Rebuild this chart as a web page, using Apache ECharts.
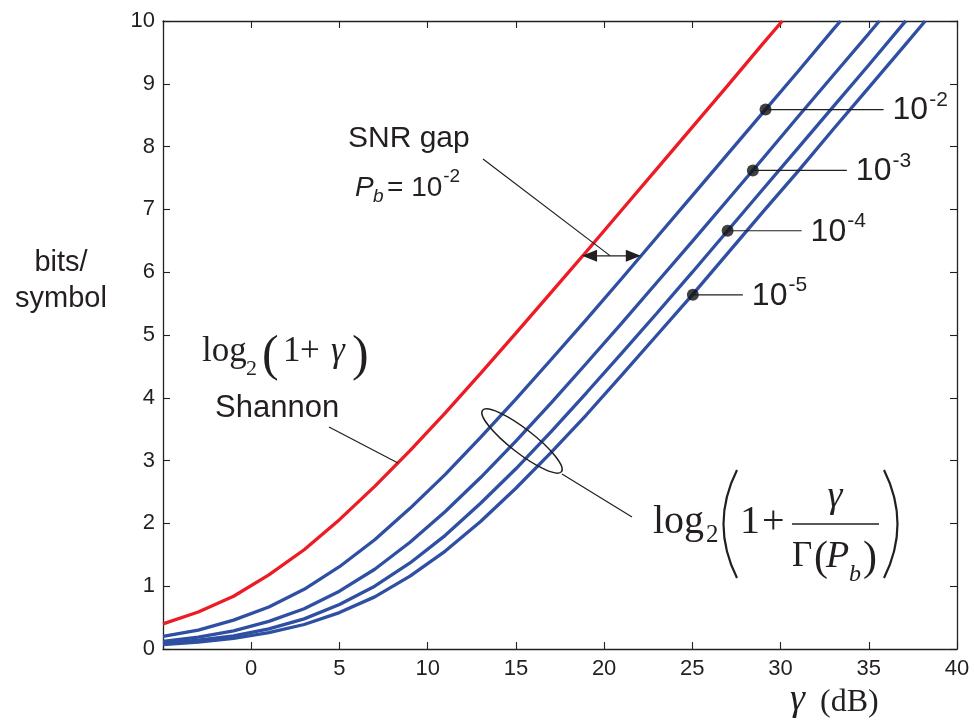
<!DOCTYPE html>
<html><head><meta charset="utf-8">
<script src="https://cdn.jsdelivr.net/npm/echarts@6/dist/echarts.min.js"></script>
<style>html,body{margin:0;padding:0;background:#fff}#c{width:974px;height:727px}</style>
</head><body><div id="c"></div>
<script>
// ---- data ----
const shannonX = [-5,-3,-1,1,3,5,7,9,11,13,15,17,19,21,23,25,27,29,30.1];
const shannonY = [0.40,0.59,0.84,1.18,1.58,2.06,2.59,3.16,3.76,4.39,5.03,5.68,6.33,6.99,7.65,8.31,8.97,9.64,10];
const pb2X = [-5,-3,-1,1,3,5,7,9,11,13,15,17,19,21,23,25,27,29,31,33,33.4];
const pb2Y = [0.20,0.30,0.46,0.67,0.95,1.31,1.74,2.24,2.78,3.37,3.98,4.61,5.25,5.90,6.56,7.22,7.88,8.54,9.20,9.87,10];
const pb3X = [-5,-3,-1,1,3,5,7,9,11,13,15,17,19,21,23,25,27,29,31,33,35,35.6];
const pb3Y = [0.12,0.19,0.29,0.44,0.64,0.92,1.27,1.70,2.19,2.73,3.31,3.92,4.55,5.19,5.84,6.49,7.15,7.81,8.48,9.14,9.80,10];
const pb4X = [-5,-3,-1,1,3,5,7,9,11,13,15,17,19,21,23,25,27,29,31,33,35,37,37.1];
const pb4Y = [0.09,0.14,0.21,0.32,0.48,0.71,1.00,1.37,1.81,2.32,2.87,3.46,4.08,4.71,5.35,6.00,6.66,7.32,7.98,8.64,9.30,9.97,10];
const pb5X = [-5,-3,-1,1,3,5,7,9,11,13,15,17,19,21,23,25,27,29,31,33,35,37,38.2];
const pb5Y = [0.07,0.11,0.17,0.26,0.39,0.58,0.83,1.16,1.56,2.03,2.56,3.13,3.73,4.36,5.00,5.64,6.30,6.96,7.61,8.28,8.94,9.60,10];
const dotX = [29.15, 28.43, 27.0, 25.03];
const dotY = [8.59, 7.62, 6.66, 5.64];
const dotExp = ['-2','-3','-4','-5'];
const gapArrowY = 6.26, gapArrowX1 = 18.75, gapArrowX2 = 22.08;

// ---- chart ----
const SANS = '"Liberation Sans", Arial, sans-serif';
const SERIF = '"Liberation Serif", "Times New Roman", serif';
const INK = '#231f20';
const FRAME = '#222';
const chart = echarts.init(document.getElementById('c'), null, {renderer:'canvas'});
const pair = (xs, ys) => xs.map((x, i) => [x, ys[i]]);

const axLine = {onZero:false, lineStyle:{color:FRAME, width:1.3}};
const axTick = {inside:true, length:7, lineStyle:{color:FRAME, width:1.1}};
const lineSeries = (xs, ys, color) => ({
  type:'line', data: pair(xs, ys), showSymbol:false, smooth:false, silent:true,
  lineStyle:{color, width:3.3}, z:3
});
const RED = '#ed1c24', BLUE = '#2f4fa2';

chart.setOption({
  animation:false,
  grid:{left:163, right:17, top:21, bottom:78},
  xAxis:[
    {type:'value', min:-5, max:40, interval:5, position:'bottom', axisLine:axLine, axisTick:axTick,
     splitLine:{show:false},
     axisLabel:{margin:9, fontSize:22, fontFamily:SANS, color:INK, formatter:v => v < 0 ? '' : String(v)}},
    {type:'value', min:-5, max:40, interval:5, position:'top', axisLine:axLine, axisTick:axTick,
     splitLine:{show:false}, axisLabel:{show:false}}
  ],
  yAxis:[
    {type:'value', min:0, max:10, interval:1, position:'left', axisLine:axLine, axisTick:axTick,
     splitLine:{show:false}, axisLabel:{margin:8, fontSize:22, fontFamily:SANS, color:INK}},
    {type:'value', min:0, max:10, interval:1, position:'right', axisLine:axLine, axisTick:axTick,
     splitLine:{show:false}, axisLabel:{show:false}}
  ],
  series:[
    lineSeries(shannonX, shannonY, RED),
    lineSeries(pb2X, pb2Y, BLUE),
    lineSeries(pb3X, pb3Y, BLUE),
    lineSeries(pb4X, pb4Y, BLUE),
    lineSeries(pb5X, pb5Y, BLUE),
    {type:'scatter', data: pair(dotX, dotY), symbolSize:12, silent:true, itemStyle:{color:'#111'}, z:6}
  ]
});

// ---- annotations ----
const P = (x, y) => chart.convertToPixel({xAxisIndex:0, yAxisIndex:0}, [x, y]);
const mctx = document.createElement('canvas').getContext('2d');
const tw = (t, font) => { mctx.font = font; return mctx.measureText(t).width; };
const fontOf = (size, fam, italic) => (italic ? 'italic ' : '') + size + 'px ' + fam;
function T(t, x, y, size, fam, opts) {
  opts = opts || {};
  const al = opts.align || 'left';
  return {type:'text', x, y, z:20, silent:true,
    style:{text:t, font:fontOf(size, fam, opts.italic), fill:INK,
      align:al, textAlign:al, verticalAlign:'middle', textVerticalAlign:'middle'}};
}
function L(x1, y1, x2, y2, w) {
  return {type:'line', z:15, silent:true, shape:{x1, y1, x2, y2}, style:{stroke:INK, lineWidth:w || 1.2}};
}
const g = [];

// y axis title
g.push(T('bits/', 61, 263, 29, SANS, {align:'center'}));
g.push(T('symbol', 61, 299, 29, SANS, {align:'center'}));
// x axis title
g.push(T('γ', 790, 700, 38, SERIF, {italic:true}));
g.push(T('(dB)', 820, 703, 32, SERIF));

// SNR gap annotation
g.push(T('SNR gap', 348, 139, 30, SANS));
g.push(T('P', 355, 188, 28, SANS, {italic:true}));
g.push(T('b', 373, 197, 19, SANS, {italic:true}));
g.push(T('= 10', 387, 188, 28, SANS));
g.push(T('-2', 387 + tw('= 10', fontOf(28, SANS)) + 1, 177, 19, SANS));
const a1 = P(gapArrowX1, gapArrowY), a2 = P(gapArrowX2, gapArrowY);
const mid = P(20.35, gapArrowY);
g.push(L(483, 159, mid[0], mid[1], 1.2));
g.push(L(a1[0] + 10, a1[1], a2[0] - 10, a2[1], 1.3));
g.push({type:'polygon', z:16, silent:true, shape:{points:[[a1[0], a1[1]], [a1[0] + 15, a1[1] - 6], [a1[0] + 15, a1[1] + 6]]}, style:{fill:INK}});
g.push({type:'polygon', z:16, silent:true, shape:{points:[[a2[0], a2[1]], [a2[0] - 15, a2[1] - 6], [a2[0] - 15, a2[1] + 6]]}, style:{fill:INK}});

// Pb labels
const leadLen = [118, 94, 74, 50];
dotX.forEach((x, i) => {
  const [px, py] = P(x, dotY[i]);
  g.push(L(px, py, px + leadLen[i], py, 1.2));
  const lx = px + leadLen[i] + 9;
  g.push(T('10', lx, py + 1, 32, SANS));
  g.push(T(dotExp[i], lx + tw('10', fontOf(32, SANS)) + 1, py - 9.5, 21, SANS));
});

// Shannon formula
g.push(T('log', 202, 352, 35, SERIF));
g.push(T('2', 246, 369, 22, SERIF));
g.push(T('(', 262, 357, 50, SERIF));
g.push(T('1', 283, 352, 35, SERIF));
g.push(T('+', 300, 352, 35, SERIF));
g.push(T('γ', 331, 352, 35, SERIF, {italic:true}));
g.push(T(')', 352, 357, 50, SERIF));
g.push(T('Shannon', 215, 408, 31, SANS));
g.push(L(329, 427, 398, 463, 1.2));

// ellipse + gap formula
g.push({type:'ellipse', z:15, silent:true, x:522, y:441, rotation:-0.66,
  shape:{cx:0, cy:0, rx:50, ry:12}, style:{fill:'transparent', stroke:INK, lineWidth:1.5}});
g.push(L(562, 474, 632, 517, 1.2));
g.push(T('log', 653, 522, 40, SERIF));
g.push(T('2', 706, 535, 25, SERIF));
g.push({type:'bezierCurve', z:15, silent:true, shape:{x1:737, y1:470, x2:737, y2:578, cpx1:710, cpy1:524}, style:{stroke:INK, lineWidth:2.2, fill:null}});
g.push({type:'bezierCurve', z:15, silent:true, shape:{x1:884, y1:470, x2:884, y2:578, cpx1:911, cpy1:524}, style:{stroke:INK, lineWidth:2.2, fill:null}});
g.push(T('1', 740, 522, 40, SERIF));
g.push(T('+', 762, 522, 40, SERIF));
g.push(T('γ', 835, 497, 38, SERIF, {italic:true, align:'center'}));
g.push(L(792, 524, 879, 524, 1.6));
g.push(T('Γ', 792, 557, 35, SERIF));
g.push(T('(', 814, 559, 42, SERIF));
g.push(T('P', 826, 557, 38, SERIF, {italic:true}));
g.push(T('b', 849, 575, 24, SERIF, {italic:true}));
g.push(T(')', 863, 559, 42, SERIF));

chart.setOption({graphic:{elements:g}});
</script>
</body></html>
